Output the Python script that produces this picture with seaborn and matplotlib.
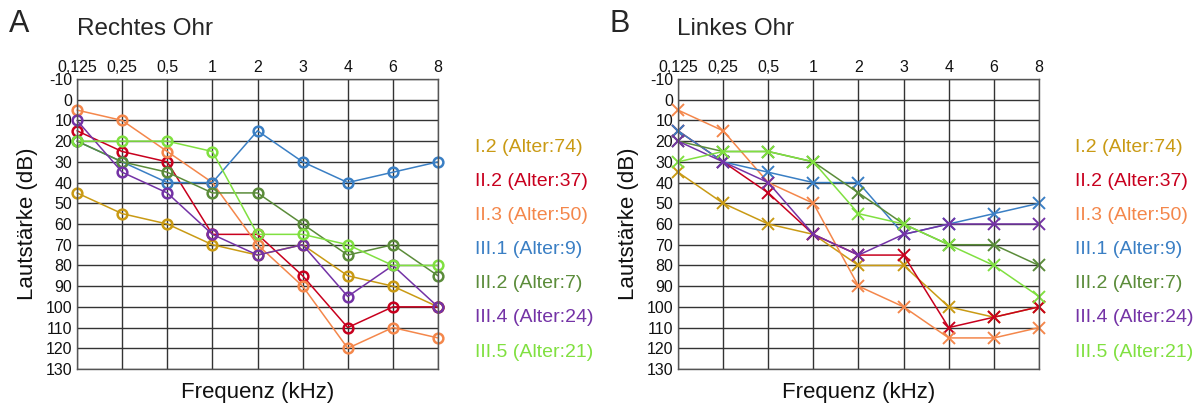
import numpy as np
import pandas as pd
import matplotlib
matplotlib.use("Agg")
import matplotlib.pyplot as plt
import seaborn as sns

# Frequenzen (kHz) und Hörschwellen (dB)
frequenzen = ["0,125", "0,25", "0,5", "1", "2", "3", "4", "6", "8"]
personen = ["I.2", "II.2", "II.3", "III.1", "III.2", "III.4", "III.5"]
alter = [74, 37, 50, 9, 7, 24, 21]
farben = ["#c99a14", "#c8001e", "#f4874b", "#3a7fc4", "#5b8c3a", "#7433a6", "#80e040"]

rechts_db = [
    [45, 55, 60, 70, 75, 70, 85, 90, 100],    # I.2
    [15, 25, 30, 65, 65, 85, 110, 100, 100],  # II.2
    [5, 10, 25, 40, 70, 90, 120, 110, 115],   # II.3
    [20, 30, 40, 40, 15, 30, 40, 35, 30],     # III.1
    [20, 30, 35, 45, 45, 60, 75, 70, 85],     # III.2
    [10, 35, 45, 65, 75, 70, 95, 80, 100],    # III.4
    [20, 20, 20, 25, 65, 65, 70, 80, 80],     # III.5
]
links_db = [
    [35, 50, 60, 65, 80, 80, 100, 105, 100],  # I.2
    [15, 30, 45, 65, 75, 75, 110, 105, 100],  # II.2
    [5, 15, 40, 50, 90, 100, 115, 115, 110],  # II.3
    [15, 30, 35, 40, 40, 65, 60, 55, 50],     # III.1
    [20, 25, 25, 30, 45, 60, 70, 70, 80],     # III.2
    [20, 30, 40, 65, 75, 65, 60, 60, 60],     # III.4
    [30, 25, 25, 30, 55, 60, 70, 80, 95],     # III.5
]

sns.set_theme(style="white")
plt.rcParams["font.family"] = ["Liberation Sans", "DejaVu Sans"]

W, H = 1197, 407
fig = plt.figure(figsize=(W / 100, H / 100), dpi=100)


def px_ax(left, top, right, bottom):
    return fig.add_axes([left / W, 1 - bottom / H, (right - left) / W, (bottom - top) / H])


def zeichne_ohr(ax, werte, marker, ms, mew):
    rows = []
    for person, reihe in zip(personen, werte):
        for f, db in zip(frequenzen, reihe):
            rows.append({"person": person, "frequenz": f, "db": db})
    df = pd.DataFrame(rows)

    for person, farbe in zip(personen, farben):
        sns.lineplot(data=df[df["person"] == person], x="frequenz", y="db",
                     sort=False, color=farbe, lw=1.1, marker=marker, ms=ms,
                     mec=farbe, mfc="none", mew=mew, clip_on=False, ax=ax)

    ax.set_xlim(0, len(frequenzen) - 1)
    ax.set_ylim(130, -10)
    ax.set_xticks(range(len(frequenzen)))
    ax.set_xticklabels(frequenzen)
    yt = list(range(-10, 131, 10))
    ax.set_yticks(yt)
    ax.set_yticklabels([str(v) for v in yt])
    ax.xaxis.tick_top()
    ax.xaxis.set_label_position("bottom")
    ax.tick_params(length=0, labelsize=11.5, colors="#111111")
    ax.tick_params(axis="x", pad=3)
    ax.tick_params(axis="y", pad=3.5)
    ax.grid(True, color="#333333", lw=1)
    for s in ax.spines.values():
        s.set_color("#555555")
        s.set_linewidth(1)
    ax.set_xlabel("Frequenz (kHz)", fontsize=16, color="#111111")
    ax.set_ylabel("Lautstärke (dB)", fontsize=16, color="#111111")
    ax.xaxis.set_label_coords(0.5, -0.045)
    ax.yaxis.set_label_coords(-0.108, 0.5)


ax1 = px_ax(77, 79, 438, 369)
zeichne_ohr(ax1, rechts_db, "o", 7, 1.8)
ax2 = px_ax(678, 79, 1039, 369)
zeichne_ohr(ax2, links_db, "x", 8, 1.4)

# Buchstaben und Titel
fig.text(9 / W, 1 - 32 / H, "A", fontsize=22, va="baseline")
fig.text(77 / W, 1 - 35 / H, "Rechtes Ohr", fontsize=17.5, va="baseline")
fig.text(609 / W, 1 - 32 / H, "B", fontsize=22, va="baseline")
fig.text(677 / W, 1 - 35 / H, "Linkes Ohr", fontsize=17.5, va="baseline")

# Legenden als farbiger Text
for x0 in (475, 1075):
    for i, (person, a, farbe) in enumerate(zip(personen, alter, farben)):
        y = 147 + i * 34.2
        fig.text(x0 / W, 1 - y / H, f"{person} (Alter:{a})", color=farbe,
                 fontsize=14, va="center", ha="left")

fig.savefig("out.png", dpi=100)
